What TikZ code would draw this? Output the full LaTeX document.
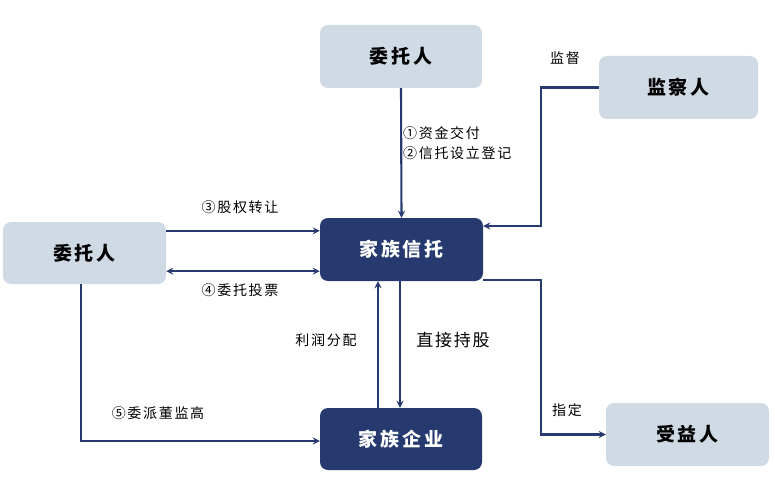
\documentclass[tikz,border=0pt]{standalone}
\usepackage{fontspec}
\setmainfont{Noto Sans CJK SC}
\usetikzlibrary{calc}

\begin{document}
\begin{tikzpicture}[x=1pt, y=-1pt,
    lightbox/.style={shape=rectangle, rounded corners=8pt, fill=C3, minimum width=162pt, minimum height=63pt, inner sep=0pt,
        font=\fontsize{19}{22}\selectfont\bfseries\addfontfeature{LetterSpace=15}},
    darkbox/.style={lightbox, fill=C0, text=white},
    lbl/.style={inner sep=0pt, font=\fontsize{14}{20}\selectfont\addfontfeature{LetterSpace=12}},
    arr/.style={draw=C0, line width=2.1pt, -stealth},
]
    \definecolor{C0}{HTML}{263A70}
    \definecolor{C3}{HTML}{CFDAE5}

    \useasboundingbox (0,0) rectangle (775,489);

    \node[lightbox] (wtr1) at (401,56.5) {委托人};
    \node[lightbox, minimum width=159pt] (jcr) at (678.5,87.5) {监察人};
    \node[darkbox, minimum width=163pt] (xt) at (401.5,249.5) {家族信托};
    \node[lightbox, minimum width=163pt, minimum height=62pt] (wtr2) at (84.5,253) {委托人};
    \node[darkbox, minimum height=62pt] (qy) at (401,439) {家族企业};
    \node[lightbox, minimum width=163pt] (syr) at (687.5,434.5) {受益人};

    \coordinate (c1) at (541,226);
    \coordinate (c2) at (541,0);

    \path[arr] (wtr1.south) -- (xt.north);
    \path[arr] (jcr.west) -| (c1) -- (c1 -| xt.east);
    \path[arr] ([yshift=-9pt]wtr2.north east) -- ([yshift=-9pt]wtr2.north east -| xt.west);
    \path[arr, stealth-stealth] ([yshift=13pt]wtr2.south east) -- ([yshift=13pt]wtr2.south east -| xt.west);
    \path[arr] ([xshift=-1.5pt]xt.south) -- ([xshift=-1pt]qy.north);
    \path[arr] ([xshift=-23pt]qy.north) -- ([xshift=-23.5pt]xt.south);
    \path[arr] ([xshift=-3.5pt]wtr2.south) |- ([yshift=-2pt]qy.west);
    \path[arr, -stealth] ([yshift=1pt]xt.south east) -| (c2 |- syr.west) -- (syr.west);

    \node[lbl, anchor=west, align=left] (l12) at (403,143) {①资金交付\\②信托设立登记};
    \node[lbl] (l0) at (565,58) {监督};
    \node[lbl] (l3) at (240,207) {③股权转让};
    \node[lbl] (l4) at (240,290) {④委托投票};
    \node[lbl] (llr) at (326,340) {利润分配};
    \node[lbl, font=\fontsize{17}{20}\selectfont\addfontfeature{LetterSpace=10}] (lcg) at (453,340) {直接持股};
    \node[lbl] (l5) at (158,413) {⑤委派董监高};
    \node[lbl] (lzd) at (567,410) {指定};

\end{tikzpicture}
\end{document}
